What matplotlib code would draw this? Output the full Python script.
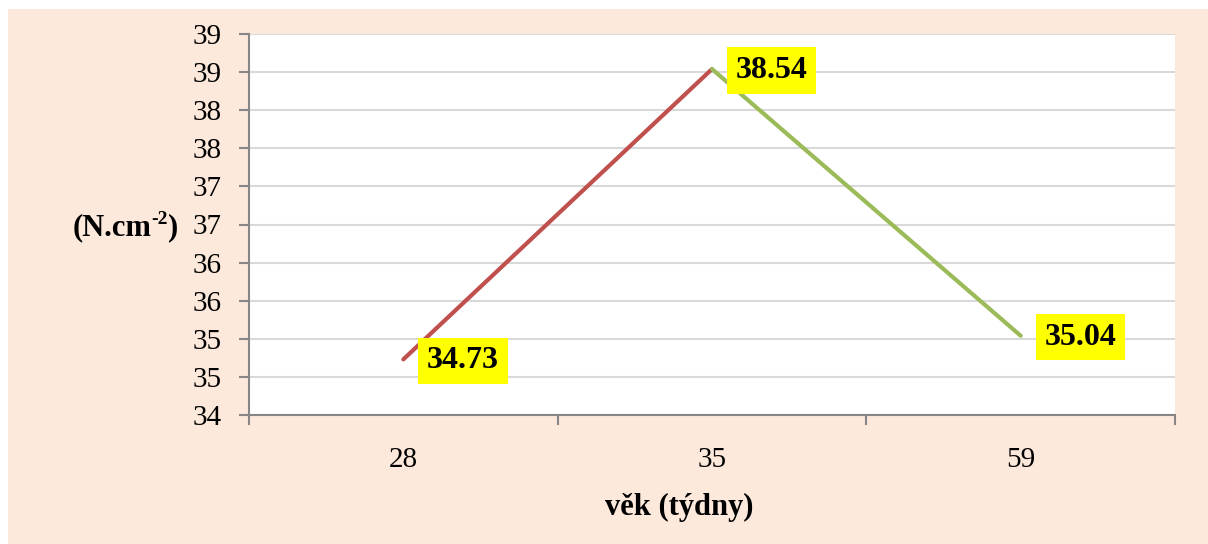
import math
import matplotlib
matplotlib.use('Agg')
import matplotlib.pyplot as plt
from matplotlib.patches import Rectangle
from matplotlib.ticker import FuncFormatter, MultipleLocator, FixedLocator

# data
WEEKS = ['28', '35', '59']
VALUES = [34.73, 38.54, 35.04]
LABELS = ['34.73', '38.54', '35.04']
RED = '#C0504D'
GREEN = '#9BBB59'
PEACH = '#FDE9DC'
AXIS_GRAY = '#868686'
GRID_GRAY = '#D9D9D9'

plt.rcParams['font.family'] = ['Liberation Serif', 'DejaVu Serif']


def y_unit_label(fig, x_right, y, W):
    # "(N.cm-2)" with a raised exponent, built from pieces
    renderer = fig.canvas.get_renderer()
    parts = [('(N.cm', 22, 0), ('-2', 14, 8), (')', 22, 0)]
    texts = []
    x = 0
    for s, size, dy in parts:
        t = fig.text(0, y + dy / 544, s, ha='left', va='center', fontsize=size,
                     fontweight='bold')
        w = t.get_window_extent(renderer).width / W
        texts.append((t, x, w))
        x += w
    start = x_right - x
    for t, off, w in texts:
        t.set_x(start + off)


def main():
    W, H = 1208, 544
    fig = plt.figure(figsize=(W / 100, H / 100), dpi=100)
    fig.patch.set_facecolor('white')
    # peach chart area
    fig.patches.append(Rectangle((8 / W, 0), 1 - 8 / W, (H - 9) / H,
                                 transform=fig.transFigure, facecolor=PEACH,
                                 edgecolor='none', zorder=-10))

    ax = fig.add_axes([249 / W, (H - 415) / H, (1175 - 249) / W, (415 - 34) / H])
    ax.set_facecolor('white')

    x = list(range(len(WEEKS)))
    # segments
    ax.plot(x[:2], VALUES[:2], color=RED, lw=3, solid_capstyle='round', zorder=3)
    ax.plot(x[1:], VALUES[1:], color=GREEN, lw=3, solid_capstyle='round', zorder=4)

    for xi, v, lab in zip(x, VALUES, LABELS):
        ax.annotate(lab, (xi, v), xytext=(17, -1), textcoords='offset points',
                    ha='left', va='center', fontsize=23, fontweight='bold',
                    bbox=dict(boxstyle='square,pad=0.27', facecolor='yellow',
                              edgecolor='none'), zorder=5)

    ax.set_xlim(-0.5, len(WEEKS) - 0.5)
    ax.set_ylim(34, 39)

    # y axis
    ax.yaxis.set_major_locator(MultipleLocator(0.5))
    ax.yaxis.set_major_formatter(FuncFormatter(lambda v, p: str(int(math.floor(v + 0.5)))))
    ax.yaxis.grid(True, color=GRID_GRAY, lw=1.5)
    ax.set_axisbelow(True)
    ax.tick_params(axis='y', direction='out', length=7, width=1.5, color=AXIS_GRAY,
                   labelsize=21, pad=13)

    # x axis: ticks at category boundaries, labels at centres
    ax.xaxis.set_major_locator(FixedLocator([-0.5, 0.5, 1.5, 2.5]))
    ax.xaxis.set_major_formatter(FuncFormatter(lambda v, p: ''))
    ax.xaxis.set_minor_locator(FixedLocator(x))
    ax.set_xticklabels(WEEKS, minor=True)
    ax.tick_params(axis='x', which='major', direction='out', length=7, width=1.5,
                   color=AXIS_GRAY)
    ax.tick_params(axis='x', which='minor', length=0, labelsize=21, pad=23)

    for side in ['top', 'right']:
        ax.spines[side].set_visible(False)
    for side in ['left', 'bottom']:
        ax.spines[side].set_color(AXIS_GRAY)
        ax.spines[side].set_linewidth(1.5)

    y_unit_label(fig, 178 / W, (H - 228) / H, W)
    fig.text(679 / W, (H - 507) / H, 'věk (týdny)', ha='center', va='center',
             fontsize=22, fontweight='bold')

    fig.savefig('out.png', dpi=100)


if __name__ == '__main__':
    main()
